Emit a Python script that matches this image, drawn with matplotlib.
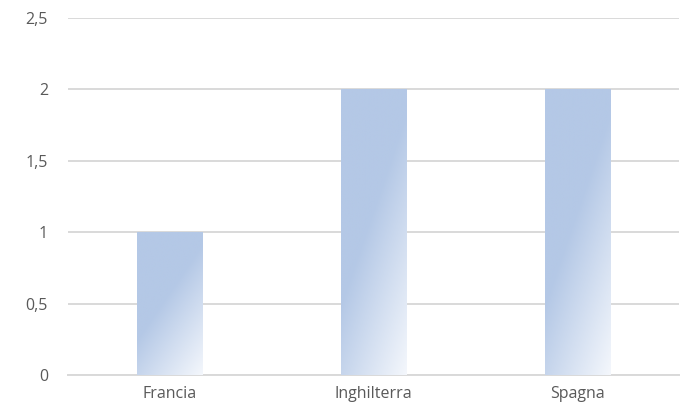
import numpy as np
import matplotlib.pyplot as plt
from matplotlib.colors import LinearSegmentedColormap
from matplotlib.ticker import FuncFormatter

categories = ['Francia', 'Inghilterra', 'Spagna']
values = [1, 2, 2]
y_ticks = [0, 0.5, 1, 1.5, 2, 2.5]

plt.rcParams['font.family'] = ['Open Sans', 'DejaVu Sans']

fig = plt.figure(figsize=(6.89, 4.19), dpi=100)
ax = fig.add_axes([0.098, 0.105, 0.888, 0.852])

cmap = LinearSegmentedColormap.from_list(
    'grad', [(0, '#B4C8E6'), (0.45, '#B4C8E6'), (1, '#F4F7FC')])

x = np.arange(len(categories))
width = 0.32
bars = ax.bar(x, values, width=width, color='none', zorder=3)

# diagonal gradient per bar: dark at top-left, light at bottom-right
u = np.linspace(0, 1, 100)
v = np.linspace(0, 1, 200)
U, V = np.meshgrid(u, v)
grad = 0.4 * U + 0.6 * V
for b in bars:
    x0, y0 = b.get_x(), b.get_y()
    w, h = b.get_width(), b.get_height()
    im = ax.imshow(grad, cmap=cmap, vmin=0, vmax=1, aspect='auto',
                   extent=[x0, x0 + w, y0, y0 + h], origin='upper',
                   interpolation='bilinear', zorder=3)
    im.set_clip_path(b)

ax.set_xlim(-0.5, len(categories) - 0.5)
ax.set_ylim(0, 2.5)
ax.set_yticks(y_ticks)
ax.yaxis.set_major_formatter(FuncFormatter(lambda val, pos: f'{val:g}'.replace('.', ',')))
ax.set_xticks(x)
ax.set_xticklabels(categories)

ax.grid(axis='y', color='#D9D9D9', linewidth=1.4, zorder=0)
for s in ['top', 'right', 'left']:
    ax.spines[s].set_visible(False)
ax.spines['bottom'].set_color('#D9D9D9')
ax.spines['bottom'].set_linewidth(1.4)
ax.tick_params(axis='y', length=0, pad=14, labelsize=11.5, labelcolor='#595959')
ax.tick_params(axis='x', length=0, pad=8, labelsize=11.5, labelcolor='#595959')

fig.savefig('out.png', dpi=100)
